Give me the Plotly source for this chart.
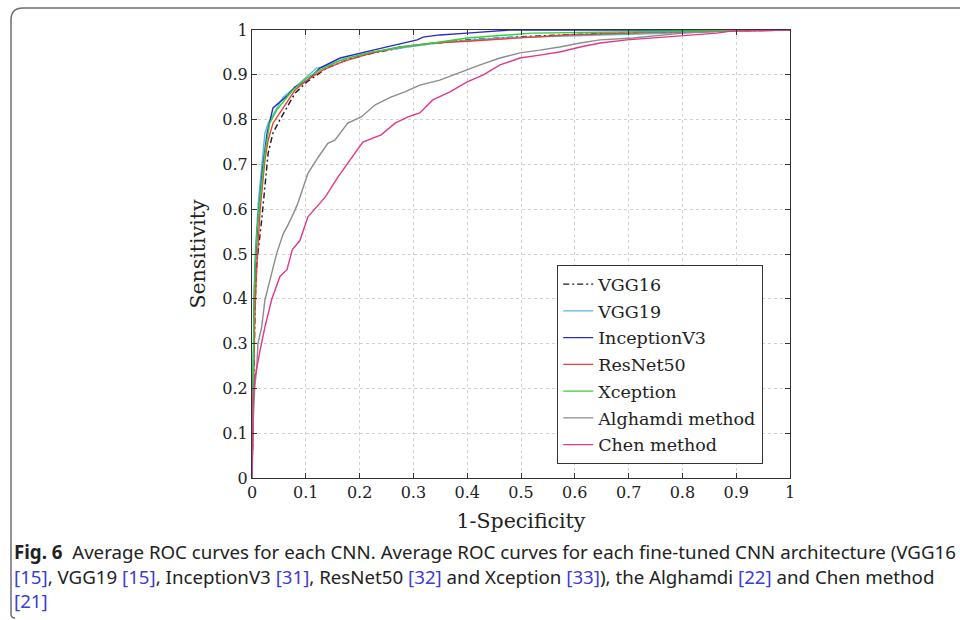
import plotly.graph_objects as go

# ---------------- data ----------------
names = ["VGG16", "VGG19", "InceptionV3", "ResNet50", "Xception", "Alghamdi method", "Chen method"]

vgg16_x = [0, 0.002, 0.004, 0.006, 0.009, 0.013, 0.018, 0.030, 0.039, 0.052, 0.065, 0.080, 0.102, 0.139, 0.18, 0.23, 0.3, 0.4, 0.5, 0.6, 0.75, 0.9, 1.0]
vgg16_y = [0, 0.12, 0.28, 0.40, 0.48, 0.53, 0.576, 0.725, 0.77, 0.80, 0.828, 0.859, 0.884, 0.915, 0.935, 0.95, 0.965, 0.978, 0.985, 0.99, 0.995, 0.998, 1.0]

vgg19_x = [0, 0.001, 0.002, 0.004, 0.006, 0.009, 0.012, 0.018, 0.024, 0.030, 0.037, 0.058, 0.074, 0.095, 0.120, 0.132, 0.17, 0.22, 0.275, 0.35, 0.461, 0.55, 0.647, 0.75, 0.833, 0.9, 1.0]
vgg19_y = [0, 0.12, 0.28, 0.42, 0.50, 0.56, 0.62, 0.694, 0.77, 0.792, 0.806, 0.85, 0.866, 0.888, 0.915, 0.917, 0.935, 0.95, 0.96, 0.972, 0.982, 0.986, 0.989, 0.992, 0.996, 0.998, 1.0]

incep_x = [0, 0.001, 0.002, 0.004, 0.006, 0.008, 0.011, 0.020, 0.028, 0.039, 0.052, 0.067, 0.080, 0.102, 0.126, 0.164, 0.225, 0.257, 0.307, 0.318, 0.349, 0.40, 0.48, 0.6, 0.8, 1.0]
incep_y = [0, 0.10, 0.25, 0.38, 0.47, 0.52, 0.576, 0.694, 0.77, 0.826, 0.839, 0.855, 0.873, 0.886, 0.915, 0.9375, 0.955, 0.964, 0.978, 0.984, 0.989, 0.993, 1.0, 1.0, 1.0, 1.0]

resnet_x = [0, 0.001, 0.003, 0.005, 0.008, 0.011, 0.015, 0.024, 0.030, 0.039, 0.052, 0.065, 0.080, 0.102, 0.132, 0.17, 0.22, 0.275, 0.336, 0.40, 0.49, 0.585, 0.75, 0.9, 1.0]
resnet_y = [0, 0.08, 0.22, 0.35, 0.45, 0.52, 0.598, 0.71, 0.754, 0.792, 0.815, 0.839, 0.866, 0.888, 0.911, 0.93, 0.948, 0.962, 0.971, 0.975, 0.982, 0.989, 0.995, 0.998, 1.0]

xcep_x = [0, 0.001, 0.002, 0.004, 0.006, 0.009, 0.013, 0.018, 0.024, 0.033, 0.046, 0.065, 0.076, 0.102, 0.126, 0.17, 0.22, 0.275, 0.33, 0.40, 0.46, 0.52, 0.647, 0.8, 1.0]
xcep_y = [0, 0.10, 0.26, 0.40, 0.48, 0.55, 0.60, 0.66, 0.725, 0.792, 0.821, 0.85, 0.866, 0.893, 0.911, 0.935, 0.95, 0.962, 0.97, 0.982, 0.988, 0.993, 0.995, 0.997, 1.0]

algh_x = [0, 0.002, 0.005, 0.009, 0.011, 0.018, 0.024, 0.033, 0.046, 0.058, 0.067, 0.080, 0.086, 0.104, 0.123, 0.141, 0.154, 0.178, 0.203, 0.229, 0.258, 0.284, 0.312, 0.349, 0.387, 0.424, 0.461, 0.498, 0.535, 0.572, 0.610, 0.647, 0.708, 0.80, 0.894, 1.0]
algh_y = [0, 0.12, 0.20, 0.25, 0.30, 0.337, 0.397, 0.442, 0.502, 0.545, 0.565, 0.598, 0.616, 0.68, 0.716, 0.747, 0.754, 0.792, 0.806, 0.833, 0.85, 0.862, 0.877, 0.888, 0.906, 0.922, 0.9375, 0.949, 0.955, 0.962, 0.971, 0.978, 0.982, 0.993, 0.998, 1.0]

chen_x = [0, 0.001, 0.002, 0.005, 0.010, 0.015, 0.024, 0.037, 0.052, 0.065, 0.075, 0.089, 0.104, 0.126, 0.136, 0.160, 0.178, 0.206, 0.240, 0.266, 0.290, 0.312, 0.336, 0.368, 0.400, 0.430, 0.461, 0.498, 0.535, 0.572, 0.610, 0.647, 0.697, 0.771, 0.864, 0.894, 1.0]
chen_y = [0, 0.10, 0.17, 0.22, 0.255, 0.285, 0.337, 0.40, 0.45, 0.465, 0.51, 0.53, 0.583, 0.614, 0.627, 0.672, 0.703, 0.75, 0.766, 0.792, 0.806, 0.815, 0.844, 0.862, 0.884, 0.90, 0.922, 0.9375, 0.944, 0.951, 0.962, 0.971, 0.978, 0.984, 0.993, 0.998, 1.0]

tick_vals = [0, 0.1, 0.2, 0.3, 0.4, 0.5, 0.6, 0.7, 0.8, 0.9, 1]
tick_text = ["0", "0.1", "0.2", "0.3", "0.4", "0.5", "0.6", "0.7", "0.8", "0.9", "1"]

caption_lines = [
    "<b>Fig. 6</b>  Average ROC curves for each CNN. Average ROC curves for each fine-tuned CNN architecture (VGG16",
    "<span style='color:#3b3bd6'>[15]</span>, VGG19 <span style='color:#3b3bd6'>[15]</span>, InceptionV3 <span style='color:#3b3bd6'>[31]</span>, ResNet50 <span style='color:#3b3bd6'>[32]</span> and Xception <span style='color:#3b3bd6'>[33]</span>), the Alghamdi <span style='color:#3b3bd6'>[22]</span> and Chen method",
    "<span style='color:#3b3bd6'>[21]</span>",
]

# ---------------- figure ----------------
series = [
    (vgg16_x, vgg16_y, "#1a1a1a", "dashdot"),
    (vgg19_x, vgg19_y, "#55b8e0", "solid"),
    (incep_x, incep_y, "#2a2ac8", "solid"),
    (resnet_x, resnet_y, "#ec3f3a", "solid"),
    (xcep_x, xcep_y, "#35d035", "solid"),
    (algh_x, algh_y, "#8c8c8c", "solid"),
    (chen_x, chen_y, "#e2388a", "solid"),
]

fig = go.Figure()
for i, (xs, ys, col, dash) in enumerate(series):
    fig.add_trace(go.Scatter(
        x=xs, y=ys, mode="lines", name=names[i], legendgroup=names[i],
        line=dict(color=col, width=1.4, dash=("6px,3px,2px,3px" if dash == "dashdot" else "solid")),
    ))

L, R, T, B = 252, 790, 30, 478
W, H = 960, 620


def px(xp):
    return (xp - L) / (R - L)


def py(yp):
    return (B - yp) / (B - T)


serif = "DejaVu Serif"
axis_common = dict(
    range=[0, 1], tickvals=tick_vals, ticktext=tick_text,
    showline=True, linecolor="#333333", linewidth=1.2, mirror="ticks",
    ticks="inside", ticklen=5, tickcolor="#333333", tickwidth=1,
    showgrid=True, gridcolor="#d2d2d2", griddash="dot", gridwidth=1,
    zeroline=False, tickfont=dict(family=serif, size=16, color="#222222"),
    fixedrange=True,
)

fig.update_layout(
    width=W, height=H,
    margin=dict(l=L, r=W - R, t=T, b=H - B, autoexpand=False),
    paper_bgcolor="white", plot_bgcolor="white",
    xaxis=dict(axis_common, title=dict(text="1-Specificity", font=dict(family=serif, size=20.5, color="#222222"), standoff=12)),
    yaxis=dict(axis_common, title=dict(text="Sensitivity", font=dict(family=serif, size=20.5, color="#222222"), standoff=11)),
    legend=dict(
        x=px(557), y=py(265), xanchor="left", yanchor="top",
        bordercolor="#333333", borderwidth=1.2, bgcolor="white",
        font=dict(family=serif, size=17.5, color="#222222"),
        tracegroupgap=1, itemwidth=30,
    ),
    showlegend=True,
)

# caption
cap_y = [551, 576, 600]
for line, yy in zip(caption_lines, cap_y):
    fig.add_annotation(
        x=px(12), y=py(yy), xref="paper", yref="paper", xanchor="left", yanchor="middle",
        text=line, showarrow=False, align="left",
        font=dict(family="Noto Sans", size=18.7, color="#222222"),
    )

# rounded outer border
x0, y0, x1, y1, r = 11, 8, 975, 618, 12
path = (f"M {px(x0)},{py(y0 + r)} "
        f"Q {px(x0)},{py(y0)} {px(x0 + r)},{py(y0)} "
        f"L {px(x1)},{py(y0)} "
        f"M {px(x0)},{py(y0 + r)} "
        f"L {px(x0)},{py(y1 - 4)} "
        f"Q {px(x0)},{py(y1)} {px(x0 + 4)},{py(y1)}")
fig.add_shape(type="path", path=path, xref="paper", yref="paper",
              line=dict(color="#6e6e6e", width=1.5), layer="above")

fig.write_html("out.html", config={"displayModeBar": False},
               post_script="document.body.style.margin='0px';document.body.style.overflow='hidden';")
